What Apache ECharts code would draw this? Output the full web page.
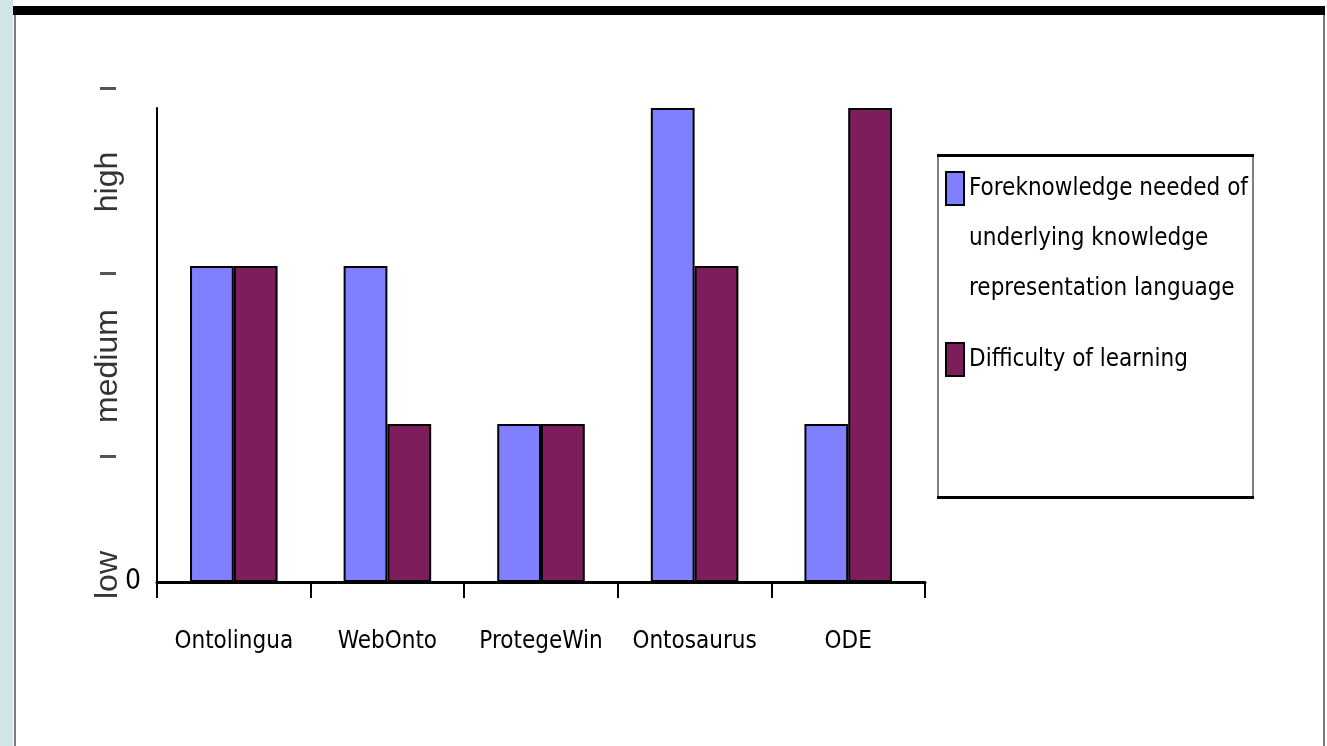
<!DOCTYPE html>
<html>
<head>
<meta charset="utf-8">
<script src="https://cdn.jsdelivr.net/npm/echarts@6/dist/echarts.min.js"></script>
<style>
  html, body { margin: 0; padding: 0; background: #fff; }
  #chart { width: 1327px; height: 746px; }
</style>
</head>
<body>
<div id="chart"></div>
<script>
const categories = ['Ontolingua', 'WebOnto', 'ProtegeWin', 'Ontosaurus', 'ODE'];
const foreknowledge = [2, 2, 1, 3, 1];
const difficulty = [2, 1, 1, 2, 3];
const seriesNames = [
    'Foreknowledge needed of\nunderlying knowledge\nrepresentation language',
    'Difficulty of learning'
];
const levelLabels = ['low', 'medium', 'high'];

const FONT = '"DejaVu Sans Condensed", "Liberation Sans Narrow", "Liberation Sans", sans-serif';
const BLUE = '#8080ff';
const PURPLE = '#7e1d5c';
const LINE_H = 50;

const chart = echarts.init(document.getElementById('chart'));

// rotated level captions left of the value axis ("low | medium | high |")
const levelY = [575, 366, 182];
const dashY = [456, 273, 88];
const levelTexts = levelLabels.map((t, i) => ({
    type: 'text',
    x: 108, y: levelY[i],
    rotation: Math.PI / 2,
    style: {
        text: t, fill: '#333', font: '32px "Liberation Sans", sans-serif',
        align: 'center', verticalAlign: 'middle'
    }
}));
const dashMarks = dashY.map(y => ({
    type: 'rect',
    shape: {x: 100, y: y - 1, width: 16, height: 3},
    style: {fill: '#555'}
}));

const option = {
    backgroundColor: '#fff',
    animation: false,
    grid: {left: 157, right: 402, top: 108, bottom: 164},
    legend: {
        orient: 'vertical',
        left: 945,
        top: 172 - (LINE_H * 2.5 - 16.5),
        padding: 0,
        itemGap: 21,
        itemWidth: 18,
        itemHeight: 33,
        icon: 'rect',
        selectedMode: false,
        itemStyle: {borderColor: '#000', borderWidth: 2},
        // two blank lines in front keep the first text line level with the icon
        formatter: name => (name === seriesNames[0] ? '\n\n' + name : name),
        textStyle: {
            fontFamily: FONT, fontSize: 24, color: '#000', lineHeight: LINE_H
        },
        data: seriesNames
    },
    xAxis: {
        type: 'category',
        data: categories,
        axisLine: {lineStyle: {color: '#000', width: 3}},
        axisTick: {show: true, length: 16, interval: 0, lineStyle: {color: '#000', width: 2}},
        axisLabel: {
            fontFamily: FONT, fontSize: 24, color: '#000', margin: 48, interval: 0
        }
    },
    yAxis: {
        type: 'value',
        min: 0, max: 3, interval: 1,
        axisLine: {show: true, lineStyle: {color: '#000', width: 2}},
        axisTick: {show: false},
        splitLine: {show: false},
        axisLabel: {
            fontFamily: FONT, fontSize: 28, color: '#000', margin: 16,
            formatter: v => (v === 0 ? '0' : '')
        }
    },
    series: [
        {
            name: seriesNames[0],
            type: 'bar',
            data: foreknowledge,
            barGap: '0%',
            barCategoryGap: '43%',
            itemStyle: {color: BLUE, borderColor: '#000', borderWidth: 2}
        },
        {
            name: seriesNames[1],
            type: 'bar',
            data: difficulty,
            itemStyle: {color: PURPLE, borderColor: '#000', borderWidth: 2}
        }
    ],
    graphic: [
        // slide frame
        {type: 'rect', shape: {x: 0, y: 0, width: 13, height: 746}, style: {fill: '#cfe5e8'}, silent: true},
        {type: 'rect', shape: {x: 13, y: 6, width: 1312, height: 9}, style: {fill: '#000'}, silent: true},
        {type: 'line', shape: {x1: 15, y1: 15, x2: 15, y2: 746}, style: {stroke: '#7a7a7a', lineWidth: 2}, silent: true},
        {type: 'line', shape: {x1: 1324, y1: 15, x2: 1324, y2: 746}, style: {stroke: '#7a7a7a', lineWidth: 2}, silent: true},
        // legend box
        {type: 'line', shape: {x1: 938, y1: 155, x2: 938, y2: 497}, style: {stroke: '#808080', lineWidth: 2}, silent: true},
        {type: 'line', shape: {x1: 1253, y1: 155, x2: 1253, y2: 497}, style: {stroke: '#808080', lineWidth: 2}, silent: true},
        {type: 'rect', shape: {x: 937, y: 154, width: 317, height: 3}, style: {fill: '#000'}, silent: true},
        {type: 'rect', shape: {x: 937, y: 496, width: 317, height: 3}, style: {fill: '#000'}, silent: true}
    ].concat(levelTexts, dashMarks)
};

chart.setOption(option);
window.addEventListener('resize', function () {
    chart.resize();
});
</script>
</body>
</html>
